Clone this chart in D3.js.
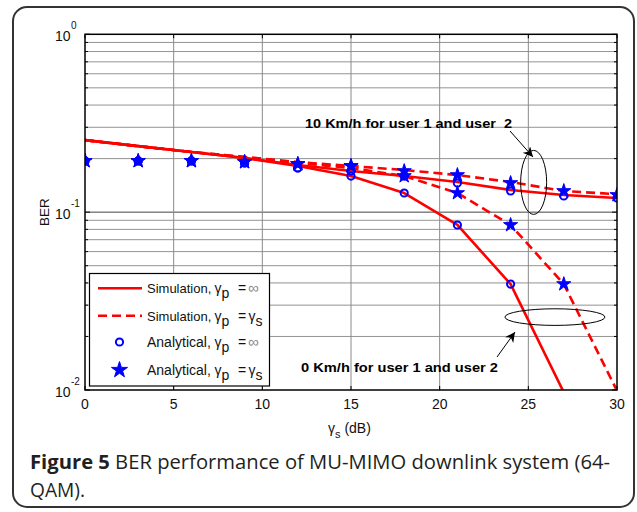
<!DOCTYPE html>
<html><head><meta charset="utf-8">
<script src="https://cdn.jsdelivr.net/npm/d3@7"></script>
<style>body{margin:0;background:#fff}svg{display:block}</style>
</head><body>
<svg id="c" width="637" height="512"></svg>
<script>
// ---- data ----
const snr = [0, 3, 6, 9, 12, 15, 18, 21, 24, 27, 30];
// Simulation, 10 km/h
const sim10Inf = [0.254, 0.235, 0.218, 0.2016, 0.184, 0.1703, 0.1596, 0.1477, 0.1332, 0.1249, 0.1201];
const sim10Gs  = [0.254, 0.235, 0.218, 0.2042, 0.1914, 0.1817, 0.1726, 0.1617, 0.1477, 0.1315, 0.1262];
// Simulation, 0 km/h
const sim0Inf  = [0.254, 0.235, 0.218, 0.2016, 0.1817, 0.1596, 0.1281, 0.0847, 0.0394, 0.0097, null];
const sim0Gs   = [0.254, 0.235, 0.218, 0.2042, 0.1889, 0.1771, 0.1596, 0.1281, 0.0847, 0.0394, 0.0099];
// Analytical, 10 km/h
const ana10Inf = [0.194, 0.194, 0.194, 0.1889, 0.1771, 0.1703, 0.1596, 0.1458, 0.1315, 0.1233, 0.1201];
const ana10Gs  = [0.194, 0.194, 0.194, 0.1914, 0.1865, 0.1817, 0.1703, 0.1617, 0.1458, 0.1315, 0.1249];
// Analytical, 0 km/h
const ana0Inf  = [0.194, 0.194, 0.194, 0.1889, 0.1771, 0.1596, 0.1281, 0.0847, 0.0394, null, null];
const ana0Gs   = [0.194, 0.194, 0.194, 0.1914, 0.1865, 0.1817, 0.1596, 0.1281, 0.0847, 0.0394, null];

const xTicks = [0, 5, 10, 15, 20, 25, 30];
const yMajor = [1, 0.1, 0.01];
const yMajorExp = ["0", "-1", "-2"];
const legendLabels = [
  ["Simulation,", "p", "∞", ""],
  ["Simulation,", "p", "γ", "s"],
  ["Analytical,", "p", "∞", ""],
  ["Analytical,", "p", "γ", "s"]
];
const topNote = "10 Km/h for user 1 and user\u00a0\u00a02";
const botNote = "0 Km/h for user 1 and user 2";
const captionBold = "Figure 5";
const captionRest = " BER performance of MU-MIMO downlink system (64-";
const captionLine2 = "QAM).";

// ---- layout ----
const svg = d3.select("#c");
const L = 85, R = 617, T = 34.3, B = 390;
const x = d3.scaleLinear().domain([0, 30]).range([L, R]);
const y = d3.scaleLog().domain([0.01, 1]).range([B, T]);
const font = "'Liberation Sans', Arial, sans-serif";

// figure frame
svg.append("rect").attr("x", 13).attr("y", 7).attr("width", 621).attr("height", 500)
  .attr("rx", 14).attr("fill", "#fff").attr("stroke", "#333").attr("stroke-width", 2);

// grid
const g = svg.append("g");
const minor = [];
[0.01, 0.1].forEach(d => { for (let k = 2; k <= 9; k++) minor.push(d * k); });
g.selectAll(".hmin").data(minor).join("line")
  .attr("x1", L).attr("x2", R).attr("y1", d => y(d)).attr("y2", d => y(d))
  .attr("stroke", "#939393").attr("stroke-width", 1);
g.selectAll(".hmaj").data([0.1]).join("line")
  .attr("x1", L).attr("x2", R).attr("y1", d => y(d)).attr("y2", d => y(d))
  .attr("stroke", "#444").attr("stroke-width", 1);
g.selectAll(".vg").data(xTicks.slice(1, -1)).join("line")
  .attr("x1", d => x(d)).attr("x2", d => x(d)).attr("y1", T).attr("y2", B)
  .attr("stroke", "#8a8a8a").attr("stroke-width", 1);

// ticks (inward)
const tk = svg.append("g").attr("stroke", "#000").attr("stroke-width", 1);
xTicks.forEach(v => {
  tk.append("line").attr("x1", x(v)).attr("x2", x(v)).attr("y1", B).attr("y2", B - 4);
  tk.append("line").attr("x1", x(v)).attr("x2", x(v)).attr("y1", T).attr("y2", T + 4);
});
minor.concat(yMajor).forEach(v => {
  const len = yMajor.includes(v) ? 5 : 3;
  tk.append("line").attr("x1", L).attr("x2", L + len).attr("y1", y(v)).attr("y2", y(v));
  tk.append("line").attr("x1", R).attr("x2", R - len).attr("y1", y(v)).attr("y2", y(v));
});

// axis labels
const xl = svg.append("g").attr("font-family", font).attr("font-size", 14).attr("fill", "#111");
xl.selectAll("text").data(xTicks).join("text")
  .attr("x", d => x(d)).attr("y", 408.5).attr("text-anchor", "middle").text(d => d);
const yl = svg.append("g").attr("font-family", font).attr("fill", "#111");
yMajor.forEach((v, i) => {
  yl.append("text").attr("x", 55).attr("y", y(v) + 7).attr("font-size", 14).text("10");
  yl.append("text").attr("x", 71).attr("y", y(v) - 5).attr("font-size", 10).text(yMajorExp[i]);
});
svg.append("text").attr("font-family", font).attr("font-size", 13.5).attr("fill", "#111")
  .attr("transform", `translate(49,${y(0.1)}) rotate(-90)`).attr("text-anchor", "middle").text("BER");
const xt = svg.append("text").attr("font-family", font).attr("font-size", 14).attr("fill", "#111")
  .attr("x", 328).attr("y", 433);
xt.append("tspan").text("γ");
xt.append("tspan").attr("font-size", 11).attr("dy", 5).text("s");
xt.append("tspan").attr("dy", -5).text(" (dB)");

// clip
svg.append("clipPath").attr("id", "pc").append("rect").attr("x", L).attr("y", T).attr("width", R - L).attr("height", B - T);
const plot = svg.append("g").attr("clip-path", "url(#pc)");

const line = d3.line().defined(d => d[1] != null).x(d => x(d[0])).y(d => y(d[1]));
const zip = arr => snr.map((s, i) => [s, arr[i]]);
const simSeries = [
  { v: sim0Gs, dash: "9,5" }, { v: sim10Gs, dash: "9,5" },
  { v: sim0Inf, dash: null }, { v: sim10Inf, dash: null }
];
simSeries.forEach(s => {
  plot.append("path").attr("d", line(zip(s.v))).attr("fill", "none").attr("stroke", "#ff0000")
    .attr("stroke-width", 2.6).attr("stroke-dasharray", s.dash).attr("stroke-linejoin", "round");
});

const starPath = d3.symbol().type(d3.symbolStar).size(62)();
function circles(arr) {
  plot.selectAll(null).data(zip(arr).filter(d => d[1] != null)).join("circle")
    .attr("cx", d => x(d[0])).attr("cy", d => y(d[1])).attr("r", 3.6)
    .attr("fill", "none").attr("stroke", "#0000ff").attr("stroke-width", 2);
}
function stars(arr) {
  plot.selectAll(null).data(zip(arr).filter(d => d[1] != null)).join("path")
    .attr("d", starPath).attr("transform", d => `translate(${x(d[0])},${y(d[1])})`)
    .attr("fill", "#0000ff").attr("stroke", "#0000ff").attr("stroke-width", 1);
}
circles(ana0Inf); circles(ana10Inf); stars(ana0Gs); stars(ana10Gs);

// axes box
svg.append("rect").attr("x", L).attr("y", T).attr("width", R - L).attr("height", B - T)
  .attr("fill", "none").attr("stroke", "#000").attr("stroke-width", 1.5);

// annotations
svg.append("defs").append("marker").attr("id", "ah").attr("viewBox", "0 0 10 10")
  .attr("refX", 10).attr("refY", 5).attr("markerWidth", 12).attr("markerHeight", 10)
  .attr("markerUnits", "userSpaceOnUse").attr("orient", "auto")
  .append("path").attr("d", "M0,0 L10,5 L0,10 L3,5 Z").attr("fill", "#000");
svg.append("ellipse").attr("cx", x(25.3)).attr("cy", y(0.147)).attr("rx", 13).attr("ry", 32)
  .attr("fill", "none").attr("stroke", "#000").attr("stroke-width", 1);
svg.append("ellipse").attr("cx", x(26.5)).attr("cy", y(0.0257)).attr("rx", 50).attr("ry", 8.3)
  .attr("fill", "none").attr("stroke", "#000").attr("stroke-width", 1);
svg.append("line").attr("x1", 510).attr("y1", 131).attr("x2", 533).attr("y2", 157)
  .attr("stroke", "#000").attr("stroke-width", 1).attr("marker-end", "url(#ah)");
svg.append("line").attr("x1", 497).attr("y1", 357).attr("x2", 515).attr("y2", 332)
  .attr("stroke", "#000").attr("stroke-width", 1).attr("marker-end", "url(#ah)");
svg.append("text").attr("x", 305).attr("y", 127.5).attr("font-family", font).attr("font-weight", "bold")
  .attr("font-size", 13).attr("textLength", 207).attr("lengthAdjust", "spacingAndGlyphs").attr("fill", "#000").text(topNote);
svg.append("text").attr("x", 301).attr("y", 372).attr("font-family", font).attr("font-weight", "bold")
  .attr("font-size", 13).attr("textLength", 197).attr("lengthAdjust", "spacingAndGlyphs").attr("fill", "#000").text(botNote);

// legend
const lg = svg.append("g");
lg.append("rect").attr("x", 89.5).attr("y", 273.5).attr("width", 180).attr("height", 112.5)
  .attr("fill", "#fff").attr("stroke", "#000").attr("stroke-width", 1.2);
const ly = [288.3, 315.8, 342, 370];
[null, "9,5"].forEach((dash, i) => {
  lg.append("line").attr("x1", 98).attr("x2", 142).attr("y1", ly[i]).attr("y2", ly[i])
    .attr("stroke", "#ff0000").attr("stroke-width", 2.6).attr("stroke-dasharray", dash);
});
lg.append("circle").attr("cx", 119.5).attr("cy", ly[2]).attr("r", 3.6)
  .attr("fill", "none").attr("stroke", "#0000ff").attr("stroke-width", 2);
lg.append("path").attr("d", d3.symbol().type(d3.symbolStar).size(80)()).attr("transform", `translate(119.5,${ly[3]})`)
  .attr("fill", "#0000ff").attr("stroke", "#0000ff").attr("stroke-width", 1);
legendLabels.forEach((lab, i) => {
  const by = ly[i] + 5;
  const t = lg.append("text").attr("y", by).attr("font-family", font)
    .attr("font-size", 14).attr("fill", "#111");
  t.append("tspan").attr("x", 147).attr("font-size", lab[0].startsWith("Sim") ? 13 : 14).text(lab[0]);
  t.append("tspan").attr("x", 214.5).text("γ");
  t.append("tspan").attr("x", 221.5).attr("y", by + 5).text(lab[1]);
  t.append("tspan").attr("x", 238).attr("y", by).text("=");
  if (lab[2] === "∞") {
    t.append("tspan").attr("x", 248).attr("fill", "#888").attr("font-size", 15).text("∞");
  } else {
    t.append("tspan").attr("x", 248.5).text("γ");
    t.append("tspan").attr("x", 255.5).attr("y", by + 5).text(lab[3]);
  }
});

// caption
const cf = "'Open Sans', 'Noto Sans', sans-serif";
const c1 = svg.append("text").attr("x", 30).attr("y", 469).attr("font-family", cf)
  .attr("font-size", 19.5).attr("fill", "#231f20").attr("textLength", 580).attr("lengthAdjust", "spacingAndGlyphs");
c1.append("tspan").attr("font-weight", "bold").text(captionBold);
c1.append("tspan").text(captionRest);
svg.append("text").attr("x", 30).attr("y", 497).attr("font-family", cf)
  .attr("font-size", 19.5).attr("fill", "#231f20").attr("textLength", 55).attr("lengthAdjust", "spacingAndGlyphs")
  .text(captionLine2);
</script>
</body></html>
